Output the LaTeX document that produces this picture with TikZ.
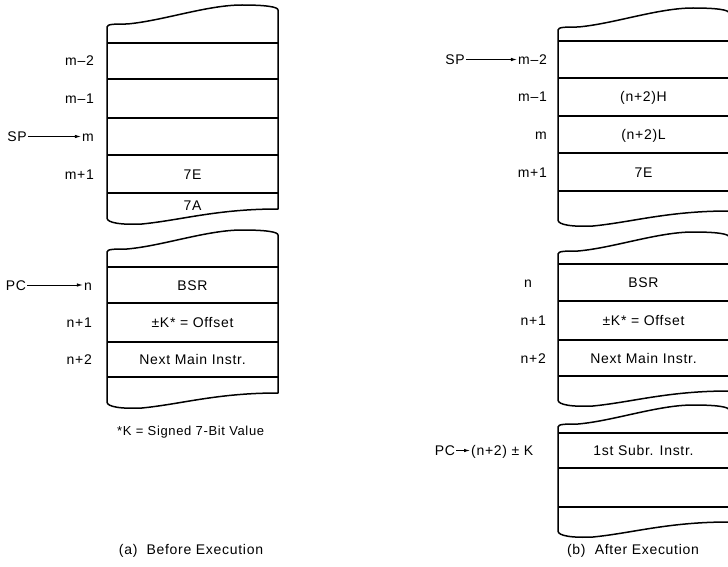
\documentclass[tikz,border=0pt]{standalone}
\usepackage{fontspec}
\setmainfont[LetterSpace=5]{Liberation Sans}
\usetikzlibrary{arrows.meta}

% memory block with torn top and bottom edges: {left x}{top left y}{bottom left y}
\newcommand{\wavyblock}[3]{%
  \draw[outline] (#1,#2+3) .. controls (#1,#2) and (#1+8,#2) .. (#1+20,#2)
    .. controls (#1+55,#2-3) and (#1+100,#2-19) .. (#1+135,#2-19)
    .. controls (#1+160,#2-19) and (#1+171,#2-17) .. (#1+171,#2-14)
    -- (#1+171,#3-13)
    .. controls (#1+110,#3-13) and (#1+75,#3-2) .. (#1+35,#3+2)
    .. controls (#1+15,#3+3) and (#1,#3+1) .. (#1,#3-4) -- cycle;}

\tikzset{
  outline/.style={line width=1.5pt, line join=round},
  rowline/.style={line width=1.3pt},
  addr/.style={anchor=east},
  ptr/.style={line width=0.8pt, -{Latex[length=6pt,width=3.5pt]}},
}

\begin{document}
\begin{tikzpicture}[x=1pt, y=-1pt,
    every node/.style={font=\fontsize{14}{16}\selectfont, text height=10pt, text depth=0pt, inner sep=1pt}]
    \useasboundingbox (0,0) rectangle (728,567);
    \clip (0,0) rectangle (728,567);

    % (a) stack before BSR
    \wavyblock{107}{24}{222}
    \foreach \y in {43,79,118,155,193} \draw[rowline] (107,\y) -- (278,\y);
    \node[addr] (am2) at (95,61) {m--2};
    \node[addr] (am1) at (95,98.5) {m--1};
    \node[addr] (am) at (95,136.5) {m};
    \node[addr] (amp1) at (95,174) {m+1};
    \node (asp) at (17,136.5) {SP};
    \node (a7e) at (192.5,174) {7E};
    \node (a7a) at (192.5,205) {7A};
    \draw[ptr] (asp) -- (am);

    % (a) program before BSR
    \wavyblock{107}{249}{406}
    \foreach \y in {267,303,342,377} \draw[rowline] (107,\y) -- (278,\y);
    \node[addr] (an) at (93,285) {n};
    \node[addr] (anp1) at (93,322.5) {n+1};
    \node[addr] (anp2) at (93,359.5) {n+2};
    \node (apc) at (16,285) {PC};
    \node (absr) at (192.5,285) {BSR};
    \node (aoff) at (192.5,322.5) {±K* = Offset};
    \node (anext) at (192.5,359.5) {Next Main Instr.};
    \draw[ptr] (apc) -- (an);
    \node[anchor=west, font=\fontsize{13}{15}\selectfont] (note) at (116,430) {*K = Signed 7-Bit Value};
    \node (capa) at (191,549) {(a)\ \ Before Execution};

    % (b) stack after BSR
    \wavyblock{558}{27}{224}
    \foreach \y in {41,78,116,153,191} \draw[rowline] (558,\y) -- (729,\y);
    \node[addr] (bm2) at (548,59.5) {m--2};
    \node[addr] (bm1) at (548,97) {m--1};
    \node[addr] (bm) at (548,134.5) {m};
    \node[addr] (bmp1) at (548,172) {m+1};
    \node (bsp) at (455,59.5) {SP};
    \node (bhi) at (643.5,97) {(n+2)H};
    \node (blo) at (643.5,134.5) {(n+2)L};
    \node (b7e) at (643.5,172) {7E};
    \draw[ptr] (bsp) -- (bm2);

    % (b) program after BSR
    \wavyblock{558}{251}{404}
    \foreach \y in {264,301,340,376} \draw[rowline] (558,\y) -- (729,\y);
    \node (bn) at (528,282.5) {n};
    \node[addr] (bnp1) at (547,320.5) {n+1};
    \node[addr] (bnp2) at (547,358) {n+2};
    \node (bbsr) at (643.5,282.5) {BSR};
    \node (boff) at (643.5,320.5) {±K* = Offset};
    \node (bnext) at (643.5,358) {Next Main Instr.};

    % (b) subroutine
    \wavyblock{558}{424}{535}
    \foreach \y in {433,468,507} \draw[rowline] (558,\y) -- (729,\y);
    \node (bpc) at (445,450.5) {PC};
    \node[anchor=west] (btgt) at (470,450.5) {(n+2) ± K};
    \node (bsub) at (643.5,450.5) {1st Subr. Instr.};
    \draw[ptr] (bpc) -- (btgt);
    \node (capb) at (633,549) {(b)\ \ After Execution};
\end{tikzpicture}
\end{document}
